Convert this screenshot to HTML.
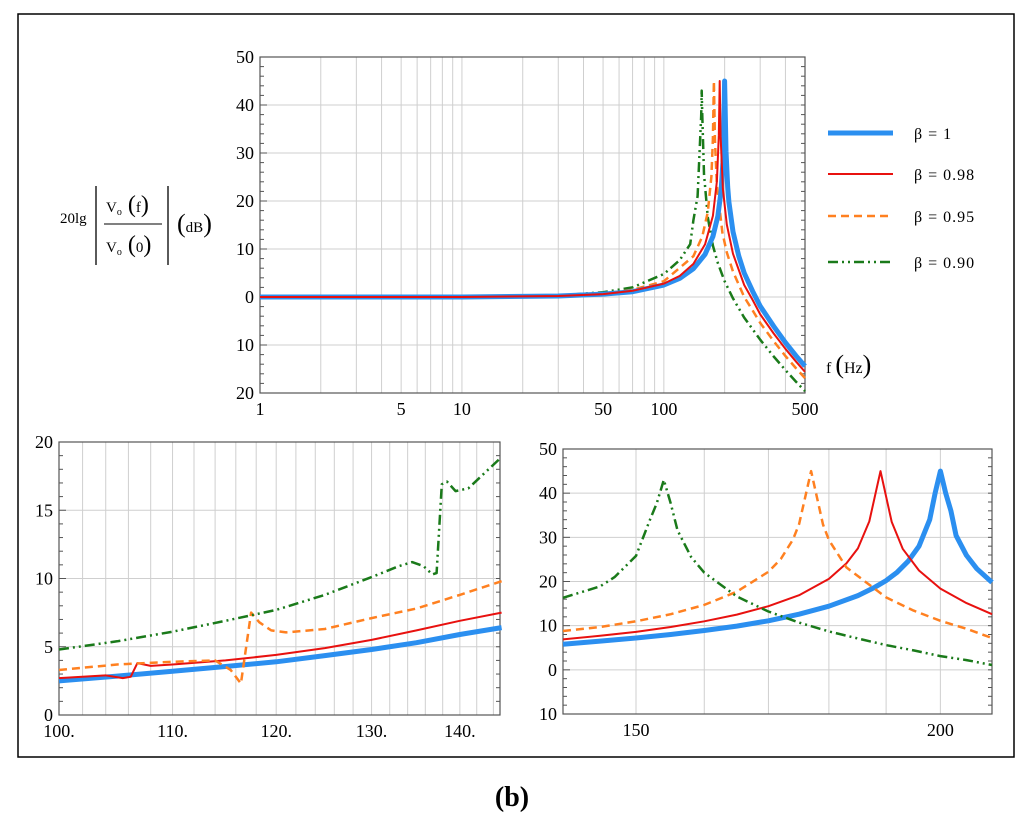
<!DOCTYPE html>
<html><head><meta charset="utf-8">
<style>
body{margin:0;background:#fff;width:1024px;height:822px;overflow:hidden;font-family:"Liberation Serif",serif;}
svg{position:absolute;left:0;top:0}
</style></head>
<body>
<svg id="fig" width="1024" height="822" font-family="Liberation Serif, serif">
<rect x="18" y="14" width="996" height="743" fill="none" stroke="#000" stroke-width="1.5"/>
<g font-size="15">
<text x="60" y="223">20lg</text>
<line x1="96" y1="186" x2="96" y2="265" stroke="#000" stroke-width="1.3"/>
<line x1="168" y1="186" x2="168" y2="265" stroke="#000" stroke-width="1.3"/>
<line x1="104" y1="224" x2="162" y2="224" stroke="#000" stroke-width="1"/>
<text x="106" y="212">V<tspan font-size="10" dy="3">o</tspan><tspan dy="-3" font-size="24"> (</tspan>f<tspan font-size="24">)</tspan></text>
<text x="106" y="252">V<tspan font-size="10" dy="3">o</tspan><tspan dy="-3" font-size="24"> (</tspan>0<tspan font-size="24">)</tspan></text>
<text x="177" y="232"><tspan font-size="26">(</tspan>dB<tspan font-size="26">)</tspan></text>
</g>
<g font-size="16">
<text x="826" y="373">f <tspan font-size="26">(</tspan>Hz<tspan font-size="26">)</tspan></text>
</g>
<text x="512" y="806" font-size="28" font-weight="bold" text-anchor="middle">(b)</text>
<g font-size="16" letter-spacing="1">
<g><line x1="828" y1="133" x2="893" y2="133" stroke="#2b8ff0" stroke-width="5"/><text x="914" y="139">β = 1</text></g>
<g><line x1="828" y1="174" x2="893" y2="174" stroke="#e8110f" stroke-width="2"/><text x="914" y="180">β = 0.98</text></g>
<g><line x1="828" y1="216" x2="893" y2="216" stroke="#ff8020" stroke-width="2.5" stroke-dasharray="8,5"/><text x="914" y="222">β = 0.95</text></g>
<g><line x1="828" y1="262" x2="893" y2="262" stroke="#1a7a1a" stroke-width="2.5" stroke-dasharray="10,4,2,4,2,4"/><text x="914" y="268">β = 0.90</text></g>
</g>
</svg>
<script>
// ---- Top chart data (f Hz, dB) ----
const topBlue=[[1,0],[10,0],[30,0.2],[50,0.6],[70,1.1],[100,2.5],[120,3.9],[140,5.9],[160,8.9],[175,12.6],[185,16.8],[192,22.1],[196,28],[199,40],[200,45],[201,40],[203,30.4],[207,22.9],[210,19.8],[220,13.6],[235,8.5],[250,5],[275,1.2],[300,-1.9],[350,-6.1],[400,-9.5],[450,-12.2],[500,-14.4]];
const topRed=[[1,0],[10,0],[30,0.2],[50,0.6],[70,1.3],[100,2.8],[120,4.4],[140,6.9],[160,11],[175,16.9],[183,24.1],[187,33.6],[189,45],[191,33.5],[196,22.5],[205,15.1],[220,9],[250,2.5],[275,-0.6],[300,-3.6],[350,-7.6],[400,-10.8],[450,-13.4],[500,-15.6]];
const topOrange=[[1,0],[30,0.2],[50,0.7],[70,1.5],[100,3.3],[120,6.1],[140,8.5],[155,12.6],[165,17.7],[172,25.1],[175,33],[177,45],[179,32.9],[183,23.2],[195,13.4],[205,9.3],[220,5.3],[250,0],[275,-2.8],[300,-5.4],[350,-9.2],[400,-12.3],[450,-14.8],[500,-16.9]];
const topGreen=[[1,0],[30,0.3],[50,1],[70,2],[100,4.8],[120,7.7],[135,11],[140,16],[147,21],[153,37.8],[154,43],[155,37.7],[158,25.6],[165,16.6],[175,10.7],[185,7.1],[200,3.3],[220,-0.3],[250,-4.3],[300,-8.9],[350,-12.4],[400,-15.2],[450,-17.6],[500,-19.6]];
const topXTicks=[1,5,10,50,100,500];
const topYTicks=[-20,-10,0,10,20,30,40,50];
// ---- Bottom-left chart data ----
const blBlue=[[100,2.5],[105,2.85],[110,3.2],[115,3.55],[120,3.9],[125,4.35],[130,4.8],[135,5.3],[140,5.9],[145,6.4]];
const blRed=[[100,2.7],[104,2.9],[105.5,2.7],[106.2,2.8],[106.8,3.8],[108,3.6],[110,3.7],[115,4.0],[120,4.4],[125,4.9],[130,5.5],[135,6.2],[140,6.9],[145,7.5]];
const blOrange=[[100,3.3],[105,3.7],[110,3.9],[114,4.0],[115.5,3.3],[116.5,2.3],[117.5,7.5],[118.3,6.8],[119.5,6.2],[121,6.05],[125,6.3],[130,7.1],[135,7.8],[140,8.8],[145,9.8]];
const blGreen=[[100,4.8],[105,5.4],[110,6.1],[115,6.9],[120,7.7],[125,8.8],[130,10.1],[133,10.9],[134.5,11.2],[135.8,10.9],[136.8,10.3],[137.3,10.4],[137.9,16.9],[138.5,17.1],[139.5,16.4],[141,16.6],[145,18.9]];
const blXTicks=[100,110,120,130,140];
const blYTicks=[0,5,10,15,20];
// ---- Bottom-right chart data ----
const brBlue=[[140,5.8],[145,6.5],[150,7.2],[155,8],[160,8.9],[165,9.9],[170,11.1],[175,12.6],[180,14.4],[185,16.8],[188,18.7],[190,20.2],[192,22.1],[194,24.6],[196,28],[198,34],[199,40],[200,45],[201,40],[202,36],[203,30.4],[205,25.9],[207,22.9],[210,19.8]];
const brRed=[[140,6.9],[145,7.7],[150,8.6],[155,9.7],[160,11],[165,12.5],[170,14.4],[175,16.9],[180,20.6],[183,24.1],[185,27.5],[187,33.6],[189,45],[191,33.5],[193,27.4],[196,22.5],[200,18.4],[205,15.1],[210,12.6]];
const brOrange=[[140,8.8],[145,9.7],[150,11],[155,12.6],[160,14.7],[165,17.7],[170,22.2],[172,25.1],[174,29.5],[175,33],[177,45],[179,32.9],[180,29.4],[183,23.2],[190,16.4],[195,13.4],[200,11.1],[205,9.3],[210,7.2]];
const brGreen=[[140,16.3],[145,18.9],[147,21],[150,25.8],[152,34],[153,37.8],[154,43],[155,37.7],[156,31.6],[158,25.6],[160,22],[165,16.6],[170,13.2],[175,10.7],[180,8.7],[185,7.1],[190,5.6],[195,4.4],[200,3.1],[205,2.2],[210,1.1]];
const brXTicks=[150,200];
const brYTicks=[-10,0,10,20,30,40,50];

const NS="http://www.w3.org/2000/svg";
const svg=document.getElementById('fig');
function mk(tag,attrs,parent){const e=document.createElementNS(NS,tag);for(const k in attrs)e.setAttribute(k,attrs[k]);(parent||svg).appendChild(e);return e;}
const styles={
 blue:{stroke:"#2b8ff0","stroke-width":5},
 red:{stroke:"#e8110f","stroke-width":2},
 orange:{stroke:"#ff8020","stroke-width":2.5,"stroke-dasharray":"8,5"},
 green:{stroke:"#1a7a1a","stroke-width":2.5,"stroke-dasharray":"10,4,2,4,2,4"}
};
function chart(cfg){
  const g=mk('g',{});
  
  
  const lx=v=>Math.log10(v);
  const xs=v=>cfg.L+(lx(v)-lx(cfg.xmin))/(lx(cfg.xmax)-lx(cfg.xmin))*(cfg.R-cfg.L);
  const ys=v=>cfg.B-(v-cfg.ymin)/(cfg.ymax-cfg.ymin)*(cfg.B-cfg.T);
  const grid=mk('g',{stroke:"#cfcfcf","stroke-width":1},g);
  
  
  cfg.xgrid.forEach(v=>{if(v>cfg.xmin&&v<cfg.xmax){const x=xs(v);mk('line',{x1:x,x2:x,y1:cfg.T,y2:cfg.B},grid);}});
  cfg.yTicks.forEach(v=>{const y=ys(v);mk('line',{x1:cfg.L,x2:cfg.R,y1:y,y2:y},grid);});
  mk('rect',{x:cfg.L,y:cfg.T,width:cfg.R-cfg.L,height:cfg.B-cfg.T,fill:"none",stroke:"#555","stroke-width":1.2},g);
  const step=cfg.yTicks[1]-cfg.yTicks[0];
  for(let v=cfg.ymin;v<=cfg.ymax+1e-9;v+=step/5){const y=ys(v);mk('line',{x1:cfg.L,x2:cfg.L+(Math.abs(v/step-Math.round(v/step))<1e-6?7:4),y1:y,y2:y,stroke:"#555"},g);mk('line',{x1:cfg.R,x2:cfg.R-4,y1:y,y2:y,stroke:"#555"},g);}
  const yl=mk('g',{"font-size":18,"text-anchor":"end"},g);
  
  
  cfg.yTicks.forEach(v=>{const t=mk('text',{x:cfg.L-6,y:ys(v)+6},yl);t.textContent=Math.abs(v);});
  const xl=mk('g',{"font-size":18,"text-anchor":"middle"},g);
  
  
  cfg.xTicks.forEach(v=>{const t=mk('text',{x:xs(v)+(cfg.xoff||0),y:cfg.B+22},xl);t.textContent=v+(cfg.dot?".":"");});
  cfg.series.forEach(s=>{
    const d=s.data.map((p,i)=>(i?"L":"M")+xs(p[0]).toFixed(1)+","+ys(p[1]).toFixed(1)).join(" ");
    const a=Object.assign({d:d,fill:"none","stroke-linejoin":"round"},styles[s.style]);
    const p=mk('path',a,g);
    
    
  });
}
function decadeGrid(a,b){const r=[];for(let d=1;d<=1000;d*=10)for(let m=1;m<10;m++){const v=m*d;if(v>=a&&v<=b)r.push(v);}return r;}
function stepGrid(a,b,s){const r=[];for(let v=a;v<=b;v+=s)r.push(v);return r;}
chart({name:"main-chart",L:260,R:805,T:57,B:393,xmin:1,xmax:500,ymin:-20,ymax:50,xTicks:topXTicks,yTicks:topYTicks,xgrid:decadeGrid(1,500),
 series:[{name:"series-beta-0.90",style:"green",data:topGreen},{name:"series-beta-0.95",style:"orange",data:topOrange},{name:"series-beta-1",style:"blue",data:topBlue},{name:"series-beta-0.98",style:"red",data:topRed}]});
chart({name:"zoom-chart-100-145",L:59,R:500,T:442,B:715,xmin:100,xmax:144.8,ymin:0,ymax:20,xTicks:blXTicks,yTicks:blYTicks,xgrid:stepGrid(100,144,2),dot:true,
 series:[{name:"series-beta-1",style:"blue",data:blBlue},{name:"series-beta-0.98",style:"red",data:blRed},{name:"series-beta-0.95",style:"orange",data:blOrange},{name:"series-beta-0.90",style:"green",data:blGreen}]});
chart({name:"zoom-chart-140-210",L:563,R:992,T:449,B:714,xmin:140,xmax:210,ymin:-10,ymax:50,xTicks:brXTicks,yTicks:brYTicks,xgrid:stepGrid(150,200,10),
 series:[{name:"series-beta-1",style:"blue",data:brBlue},{name:"series-beta-0.98",style:"red",data:brRed},{name:"series-beta-0.95",style:"orange",data:brOrange},{name:"series-beta-0.90",style:"green",data:brGreen}]});
</script>
</body></html>
